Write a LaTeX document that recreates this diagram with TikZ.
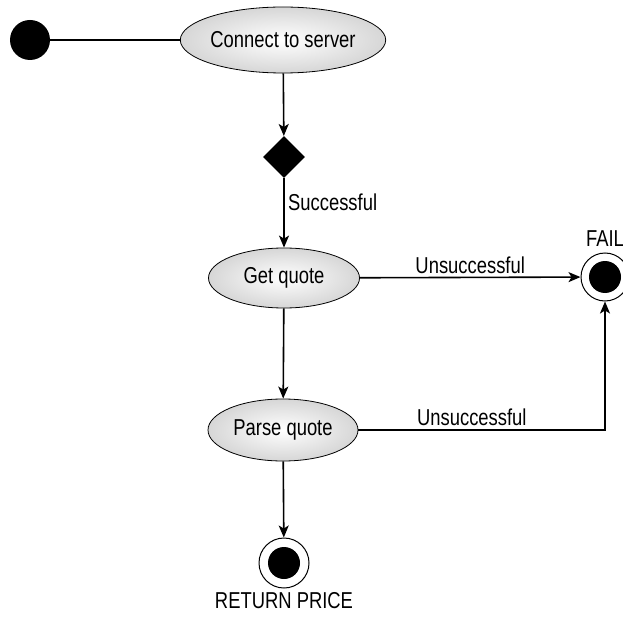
\documentclass[tikz,border=0pt]{standalone}
\usepackage{fontspec}
\setmainfont{Liberation Sans}[FakeStretch=0.8]
\usetikzlibrary{positioning, shapes.geometric, arrows.meta}

\begin{document}
\begin{tikzpicture}[x=1pt, y=-1pt, font=\fontsize{23}{27}\selectfont,
		>={Stealth[length=12pt, width=10pt, inset=3pt]},
		act/.style = {draw, ellipse, line width=0.8pt, inner sep=0pt, inner color=white, outer color=gray!32},
		init/.style = {circle, fill=black, minimum size=40pt, inner sep=0pt},
		final/.style = {circle, draw, line width=1pt, minimum size=48pt, inner sep=0pt,
			path picture={\fill (path picture bounding box.center) circle (16pt);}},
		choice/.style = {diamond, fill=black, minimum size=42pt, inner sep=0pt},
		flow/.style = {line width=1.6pt}]
		\clip (0,0) rectangle (623,620);
		\node[init] (start) at (30,40) {};
		\node[act, minimum width=200pt, minimum height=66pt] (connect) at (283,40) {Connect to server};
		\node[choice] (check) at (284,157) {};
		\node[act, minimum width=151pt, minimum height=60pt] (get) at (284,278) {Get quote};
		\node[act, minimum width=150pt, minimum height=62pt] (parse) at (283,430) {Parse quote};
		\node[final, label={[label distance=2pt]above:FAIL}] (fail) at (605,277) {};
		\node[final, minimum size=50pt, label={[label distance=0pt]below:RETURN PRICE}] (done) at (284,563) {};
		% transitions
		\draw[flow] (start) -- (connect);
		\draw[flow, ->] (connect) -- (check);
		\draw[flow, ->] (check) -- node[right, pos=0.35] {Successful} (get);
		\draw[flow, ->] (get) -- node[above] {Unsuccessful} (fail);
		\draw[flow, ->] (get) -- (parse);
		\draw[flow, ->] (parse) -| node[above, pos=0.23] {Unsuccessful} (fail);
		\draw[flow, ->] (parse) -- (done);
	\end{tikzpicture}
\end{document}
